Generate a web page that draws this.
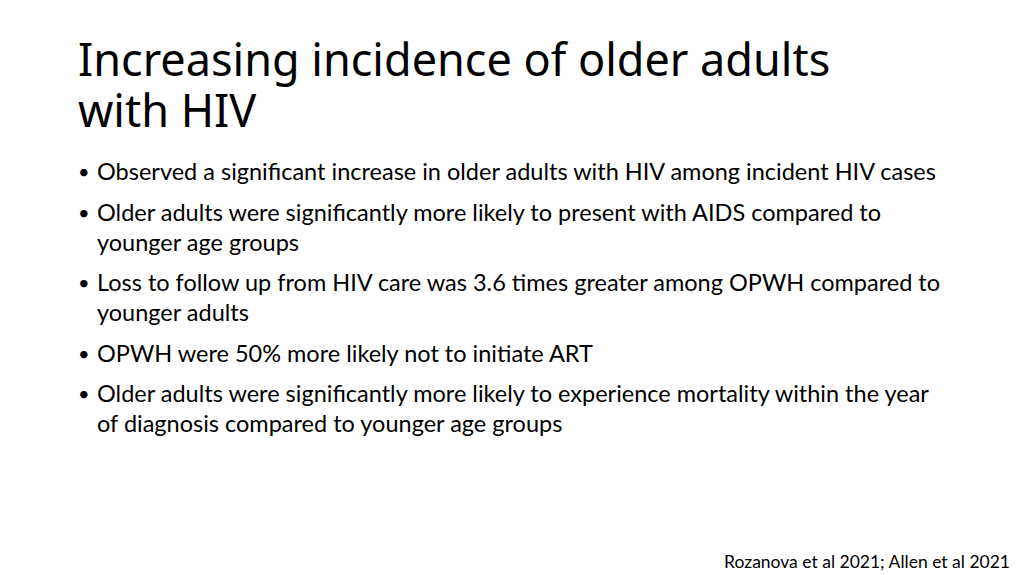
<!DOCTYPE html>
<html><head><meta charset="utf-8">
<script src="https://cdn.jsdelivr.net/npm/chart.js@4"></script>
<style>
body{margin:0;width:1024px;height:575px;background:#fff;overflow:hidden;position:relative;font-family:Lato,"Open Sans",sans-serif;color:#000}
h1{position:absolute;left:78px;top:33px;margin:0;font:45px/51px "Noto Sans","Open Sans",sans-serif;font-weight:400;white-space:nowrap}
ul{position:absolute;left:78px;top:156px;margin:0;padding:0;list-style:none;width:870px}
li{position:relative;padding-left:19px;font-size:23.5px;line-height:30px;margin-bottom:10.5px}
li:before{content:"•";position:absolute;left:0;top:0;font-size:20px}
.src{position:absolute;right:14px;top:551px;font-size:17.5px}
</style></head><body>
<h1 id="title"></h1>
<ul id="list"></ul>
<div class="src" id="src"></div>
<script>
const titleLines = ["Increasing incidence of older adults", "with HIV"];
const bullets = [
  "Observed a significant increase in older adults with HIV among incident HIV cases",
  "Older adults were significantly more likely to present with AIDS compared to younger age groups",
  "Loss to follow up from HIV care was 3.6 times greater among OPWH compared to younger adults",
  "OPWH were 50% more likely not to initiate ART",
  "Older adults were significantly more likely to experience mortality within the year of diagnosis compared to younger age groups"
];
const source = "Rozanova et al 2021; Allen et al 2021";
document.getElementById('title').innerHTML = titleLines.join('<br>');
const ul = document.getElementById('list');
bullets.forEach(b => { const li = document.createElement('li'); li.textContent = b; ul.appendChild(li); });
document.getElementById('src').textContent = source;
</script>
</body></html>
